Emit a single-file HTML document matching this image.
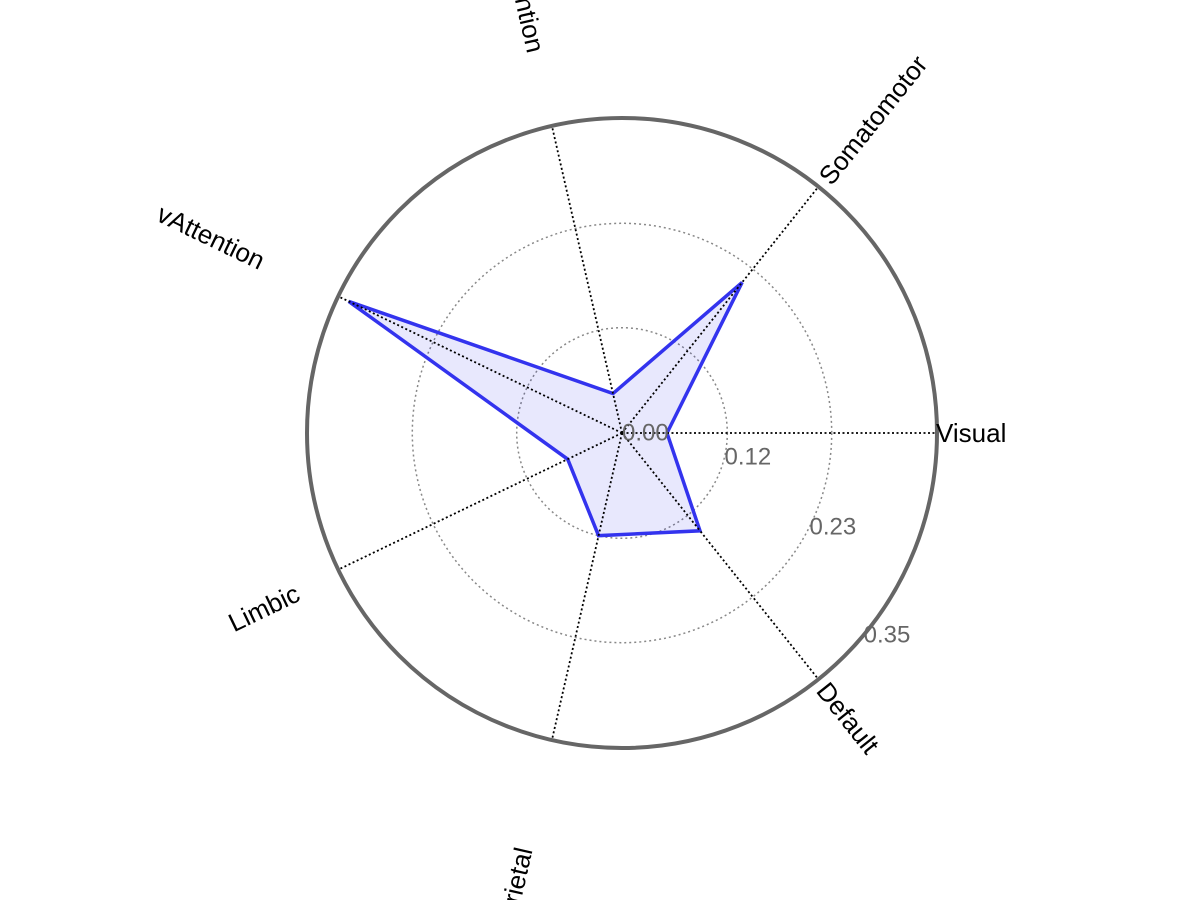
<!DOCTYPE html>
<html><head><meta charset="utf-8"><style>
html,body{margin:0;padding:0;background:#fff;width:1200px;height:900px;overflow:hidden;}
svg{display:block;font-family:"Liberation Sans",Helvetica,Arial,sans-serif;overflow:hidden;}
</style></head><body>
<svg id="chart" width="1200" height="900" viewBox="0 0 1200 900"></svg>
<script>
const categories = ["Visual","Somatomotor","dAttention","vAttention","Limbic","Frontoparietal","Default"];
const seriesValues = [0.05, 0.214, 0.045, 0.337, 0.067, 0.117, 0.139];
const tickValues = [0, 0.117, 0.233, 0.35];
const tickLabels = ["0.00","0.12","0.23","0.35"];
const maxValue = 0.35;

const NS="http://www.w3.org/2000/svg";
const svg=document.getElementById('chart');
const cx=622, cy=433, R=315;
function rScale(v){return v/maxValue*R;}
function angleOf(i){return i*2*Math.PI/categories.length;}
function pt(i,v){const a=angleOf(i),r=rScale(v);return [cx+r*Math.cos(a), cy-r*Math.sin(a)];}
function mk(tag,attrs){const e=document.createElementNS(NS,tag);for(const k in attrs)e.setAttribute(k,attrs[k]);svg.appendChild(e);return e;}

for(let k=1;k<tickValues.length-1;k++){
  const c=mk('circle',{cx:cx,cy:cy,r:rScale(tickValues[k]),fill:'none',stroke:'#888','stroke-width':1.5,'stroke-dasharray':'2 3'});
  
  
}
const oc=mk('circle',{cx:cx,cy:cy,r:rScale(maxValue),fill:'none',stroke:'#666','stroke-width':4});



const pts=seriesValues.map((v,i)=>pt(i,v).join(',')).join(' ');
const poly=mk('polygon',{points:pts,fill:'rgba(0,0,230,0.09)',stroke:'#3333ee','stroke-width':3.5,'stroke-linejoin':'miter'});



categories.forEach((c,i)=>{
  const [x,y]=pt(i,maxValue);
  const l=mk('line',{x1:cx,y1:cy,x2:x,y2:y,stroke:'#000','stroke-width':1.8,'stroke-dasharray':'2 2.5'});
  
  
});

tickLabels.forEach((t,k)=>{
  const a=k*13.3*Math.PI/180, r=rScale(tickValues[k]);
  const x=cx+r*Math.cos(a), y=cy+r*Math.sin(a);
  const tx=mk('text',{x:x,y:y,'font-size':24,fill:'#666','dominant-baseline':'central'});
  tx.textContent=t;
  
  
});

const labelPos=[[936,433,0,'start'],[873,120,-51.4,'middle'],[523,-5,77.1,'middle'],[211,237,25.7,'middle'],[264,608,-25.7,'middle'],[506,926,-77.1,'middle'],[848,718,51.4,'middle']];
categories.forEach((c,i)=>{
  const [x,y,rot,anc]=labelPos[i];
  const tx=mk('text',{x:x,y:y,'font-size':26,fill:'#000','text-anchor':anc,'dominant-baseline':'central',transform:`rotate(${rot} ${x} ${y})`});
  tx.textContent=c;
  
  
});
</script>
</body></html>
